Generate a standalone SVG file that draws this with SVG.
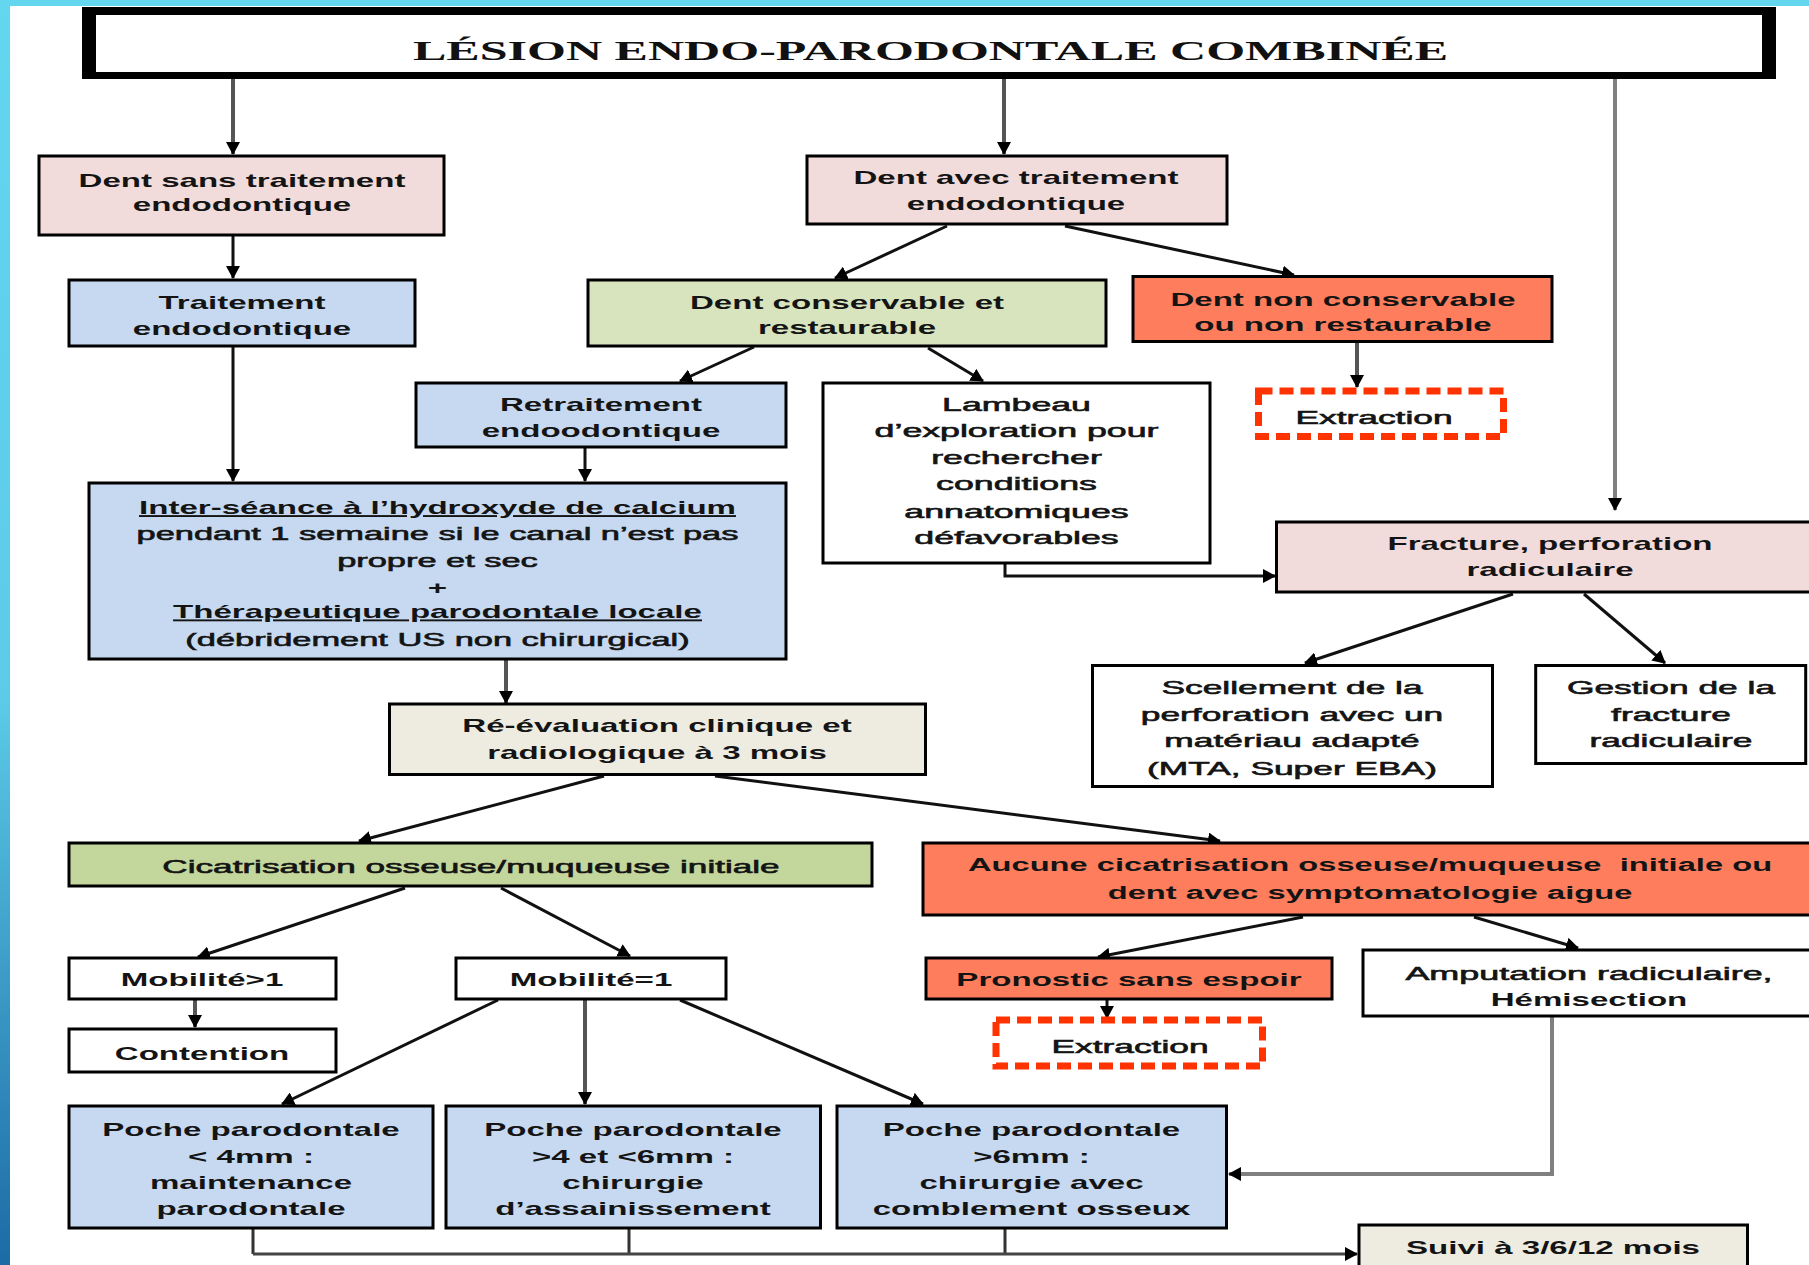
<svg xmlns="http://www.w3.org/2000/svg" width="1809" height="1265" viewBox="0 0 1809 1265">
<defs>
<linearGradient id="lb" x1="0" y1="0" x2="0" y2="1">
<stop offset="0" stop-color="#63d6f0"/>
<stop offset="0.55" stop-color="#5ccbe8"/>
<stop offset="1" stop-color="#1c6ba5"/>
</linearGradient>
<marker id="ah" markerUnits="userSpaceOnUse" markerWidth="14" markerHeight="14" refX="12" refY="7" orient="auto">
<path d="M0,0 L13,7 L0,14 z" fill="#000"/>
</marker>
<style>
.b{stroke:#000;stroke-width:3}
.pink{fill:#f2dcdb}
.blue{fill:#c6d9f1}
.lg{fill:#d7e4bd}
.gr{fill:#c3d69b}
.sal{fill:#fe7d5c}
.bei{fill:#eeece1}
.wh{fill:#fff}
.dash{fill:#fff;stroke:#ff3300;stroke-width:7;stroke-dasharray:14 7}
.t{font-family:"Liberation Sans",Arial,sans-serif;font-weight:bold;font-size:19px;fill:#141414;text-anchor:middle}
.r{font-weight:normal;stroke:#141414;stroke-width:0.6}
.c{fill:none;stroke:#111;stroke-width:3;marker-end:url(#ah)}
.cg{fill:none;stroke:#555;stroke-width:4;marker-end:url(#ah)}
.cl{fill:none;stroke:#808080;stroke-width:4}
.cn{fill:none;stroke:#333;stroke-width:3}
</style>
</defs>
<rect x="0" y="0" width="1809" height="1265" fill="#fff"/>
<rect x="0" y="0" width="1809" height="6" fill="#63d6f0"/>
<rect x="0" y="0" width="10" height="1265" fill="url(#lb)"/>

<g id="title">
<rect x="82" y="7" width="1694" height="72" fill="#000"/>
<rect x="96" y="15" width="1666" height="57" fill="#fff"/>
<text x="413" y="60" textLength="1035" lengthAdjust="spacingAndGlyphs" style="font-family:'Liberation Serif','Times New Roman',serif;font-weight:bold;font-size:28px;fill:#111">LÉSION ENDO-PARODONTALE COMBINÉE</text>
</g>

<g id="connectors">
<path class="cg" d="M233,79 V154"/>
<path class="c" d="M233,236 V278"/>
<path class="c" d="M233,347 V481"/>
<path class="cg" d="M1004,79 V154"/>
<path class="c" d="M947,226 L835,278"/>
<path class="c" d="M1065,226 L1294,275"/>
<path class="c" d="M754,347 L680,381"/>
<path class="c" d="M928,348 L983,381"/>
<path class="cg" d="M1357,343 V387"/>
<path class="cl" d="M1615,79 V510" style="marker-end:url(#ah)"/>
<path class="c" d="M585,448 V481"/>
<path class="c" d="M1005,564 V576 H1275"/>
<path class="c" d="M1513,594 L1305,663"/>
<path class="c" d="M1584,594 L1665,663"/>
<path class="cg" d="M506,660 V703"/>
<path class="c" d="M604,776 L359,841"/>
<path class="c" d="M715,776 L1220,841"/>
<path class="c" d="M405,888 L198,957"/>
<path class="c" d="M501,888 L630,956"/>
<path class="cg" d="M195,1000 V1027"/>
<path class="c" d="M498,1000 L282,1104"/>
<path class="cg" d="M585,1000 V1104"/>
<path class="c" d="M680,1000 L923,1104"/>
<path class="c" d="M1303,917 L1098,957"/>
<path class="c" d="M1474,917 L1578,948"/>
<path class="c" d="M1107,1000 V1018"/>
<path class="cl" d="M1552,1017 V1174 H1229" style="marker-end:url(#ah)"/>
<path class="cn" d="M253,1229 V1254 M629,1229 V1254 M1005,1229 V1254"/>
<path class="c" d="M253,1254 H1357" style="stroke:#444"/>
</g>

<g id="n-dent-sans">
<rect class="b pink" x="39" y="156" width="405" height="79"/>
<text class="t" transform="translate(242 0) scale(1.74 1)"><tspan x="0" y="187">Dent sans traitement</tspan><tspan x="0" y="211">endodontique</tspan></text>
</g>
<g id="n-traitement">
<rect class="b blue" x="69" y="280" width="346" height="66"/>
<text class="t" transform="translate(242 0) scale(1.74 1)"><tspan x="0" y="308.7">Traitement</tspan><tspan x="0" y="335.3">endodontique</tspan></text>
</g>
<g id="n-dent-avec">
<rect class="b pink" x="807" y="156" width="420" height="68"/>
<text class="t" transform="translate(1016 0) scale(1.74 1)"><tspan x="0" y="183.7">Dent avec traitement</tspan><tspan x="0" y="209.7">endodontique</tspan></text>
</g>
<g id="n-conservable">
<rect class="b lg" x="588" y="280" width="518" height="66"/>
<text class="t" transform="translate(847 0) scale(1.74 1)"><tspan x="0" y="308.7">Dent conservable et</tspan><tspan x="0" y="333.7">restaurable</tspan></text>
</g>
<g id="n-non-conservable">
<rect class="b sal" x="1133" y="276.5" width="419" height="65"/>
<text class="t" transform="translate(1343 0) scale(1.74 1)"><tspan x="0" y="306">Dent non conservable</tspan><tspan x="0" y="331.3">ou non restaurable</tspan></text>
</g>
<g id="n-extraction1">
<rect class="dash" x="1258.5" y="391" width="245" height="45.5"/>
<text class="t r" transform="translate(1374 0) scale(1.86 1)"><tspan x="0" y="423.7">Extraction</tspan></text>
</g>
<g id="n-retraitement">
<rect class="b blue" x="416" y="383" width="370" height="64"/>
<text class="t" transform="translate(601 0) scale(1.74 1)"><tspan x="0" y="411">Retraitement</tspan><tspan x="0" y="437">endoodontique</tspan></text>
</g>
<g id="n-lambeau">
<rect class="b wh" x="823" y="383" width="387" height="180"/>
<text class="t r" transform="translate(1016.5 0) scale(1.88 1)"><tspan x="0" y="411">Lambeau</tspan><tspan x="0" y="437">d’exploration pour</tspan><tspan x="0" y="464.3">rechercher</tspan><tspan x="0" y="490.3">conditions</tspan><tspan x="0" y="517.7">annatomiques</tspan><tspan x="0" y="543.7">défavorables</tspan></text>
</g>
<g id="n-inter">
<rect class="b blue" x="89" y="483" width="697" height="176"/>
<text class="t" transform="translate(437.5 0) scale(1.74 1)"><tspan x="0" y="513.7" text-decoration="underline">Inter-séance à l’hydroxyde de calcium</tspan></text>
<text class="t r" transform="translate(437.5 0) scale(1.81 1)"><tspan x="0" y="539.7">pendant 1 semaine si le canal n’est pas</tspan><tspan x="0" y="567">propre et sec</tspan></text>
<text class="t" transform="translate(437.5 0) scale(1.74 1)"><tspan x="0" y="593.7">+</tspan><tspan x="0" y="618" text-decoration="underline">Thérapeutique parodontale locale</tspan></text>
<text class="t r" transform="translate(437.5 0) scale(1.81 1)"><tspan x="0" y="646.3">(débridement US non chirurgical)</tspan></text>
</g>
<g id="n-fracture">
<rect class="b pink" x="1276.5" y="522" width="560" height="70"/>
<text class="t" transform="translate(1550 0) scale(1.74 1)"><tspan x="0" y="550.3">Fracture, perforation</tspan><tspan x="0" y="576">radiculaire</tspan></text>
</g>
<g id="n-reevaluation">
<rect class="b bei" x="389.5" y="704" width="536" height="70.5"/>
<text class="t" transform="translate(657 0) scale(1.74 1)"><tspan x="0" y="732">Ré-évaluation clinique et</tspan><tspan x="0" y="759.3">radiologique à 3 mois</tspan></text>
</g>
<g id="n-scellement">
<rect class="b wh" x="1092.5" y="665.5" width="400" height="121"/>
<text class="t r" transform="translate(1292 0) scale(1.86 1)"><tspan x="0" y="693.7">Scellement de la</tspan><tspan x="0" y="721.3">perforation avec un</tspan><tspan x="0" y="747">matériau adapté</tspan><tspan x="0" y="775.3">(MTA, Super EBA)</tspan></text>
</g>
<g id="n-gestion">
<rect class="b wh" x="1535.7" y="665.5" width="270" height="98"/>
<text class="t r" transform="translate(1671 0) scale(1.86 1)"><tspan x="0" y="693.7">Gestion de la</tspan><tspan x="0" y="721.3">fracture</tspan><tspan x="0" y="747">radiculaire</tspan></text>
</g>
<g id="n-cicatrisation">
<rect class="b gr" x="69" y="843" width="803" height="43"/>
<text class="t r" transform="translate(471 0) scale(1.85 1)"><tspan x="0" y="873">Cicatrisation osseuse/muqueuse initiale</tspan></text>
</g>
<g id="n-aucune">
<rect class="b sal" x="923" y="843" width="900" height="72"/>
<text class="t" transform="translate(1370 0) scale(1.72 1)" style="white-space:pre"><tspan x="0" y="871.3">Aucune cicatrisation osseuse/muqueuse  initiale ou</tspan><tspan x="0" y="899.3">dent avec symptomatologie aigue</tspan></text>
</g>
<g id="n-mobilite-sup">
<rect class="b wh" x="69" y="958" width="267" height="41"/>
<text class="t" transform="translate(202 0) scale(1.74 1)"><tspan x="0" y="986.3">Mobilité&gt;1</tspan></text>
</g>
<g id="n-mobilite-eq">
<rect class="b wh" x="456" y="958" width="270" height="41"/>
<text class="t" transform="translate(591 0) scale(1.74 1)"><tspan x="0" y="986.3">Mobilité=1</tspan></text>
</g>
<g id="n-pronostic">
<rect class="b sal" x="926" y="958" width="406" height="41"/>
<text class="t" transform="translate(1129 0) scale(1.74 1)"><tspan x="0" y="986.3">Pronostic sans espoir</tspan></text>
</g>
<g id="n-amputation">
<rect class="b wh" x="1363" y="950" width="460" height="66"/>
<text class="t r" transform="translate(1589 0) scale(1.89 1)"><tspan x="0" y="980.3">Amputation radiculaire,</tspan></text>
<text class="t" transform="translate(1589 0) scale(1.74 1)"><tspan x="0" y="1006.3">Hémisection</tspan></text>
</g>
<g id="n-extraction2">
<rect class="dash" x="996" y="1020" width="266.5" height="46"/>
<text class="t r" transform="translate(1130 0) scale(1.86 1)"><tspan x="0" y="1053">Extraction</tspan></text>
</g>
<g id="n-contention">
<rect class="b wh" x="69" y="1029" width="267" height="43"/>
<text class="t" transform="translate(202 0) scale(1.74 1)"><tspan x="0" y="1059.7">Contention</tspan></text>
</g>
<g id="n-poche1">
<rect class="b blue" x="69" y="1106" width="364" height="122"/>
<text class="t" transform="translate(251 0) scale(1.74 1)"><tspan x="0" y="1136.3">Poche parodontale</tspan><tspan x="0" y="1162.7">&lt; 4mm :</tspan><tspan x="0" y="1188.7">maintenance</tspan><tspan x="0" y="1215.3">parodontale</tspan></text>
</g>
<g id="n-poche2">
<rect class="b blue" x="446" y="1106" width="374.5" height="122"/>
<text class="t" transform="translate(633 0) scale(1.74 1)"><tspan x="0" y="1136.3">Poche parodontale</tspan><tspan x="0" y="1162.7">&gt;4 et &lt;6mm :</tspan><tspan x="0" y="1188.7">chirurgie</tspan><tspan x="0" y="1215.3">d’assainissement</tspan></text>
</g>
<g id="n-poche3">
<rect class="b blue" x="837" y="1106" width="389.5" height="122"/>
<text class="t" transform="translate(1031.5 0) scale(1.74 1)"><tspan x="0" y="1136.3">Poche parodontale</tspan><tspan x="0" y="1162.7">&gt;6mm :</tspan><tspan x="0" y="1188.7">chirurgie avec</tspan><tspan x="0" y="1215.3">comblement osseux</tspan></text>
</g>
<g id="n-suivi">
<rect class="b bei" x="1359" y="1225" width="388.5" height="60"/>
<text class="t" transform="translate(1553 0) scale(1.74 1)"><tspan x="0" y="1254.3">Suivi à 3/6/12 mois</tspan></text>
</g>
</svg>
